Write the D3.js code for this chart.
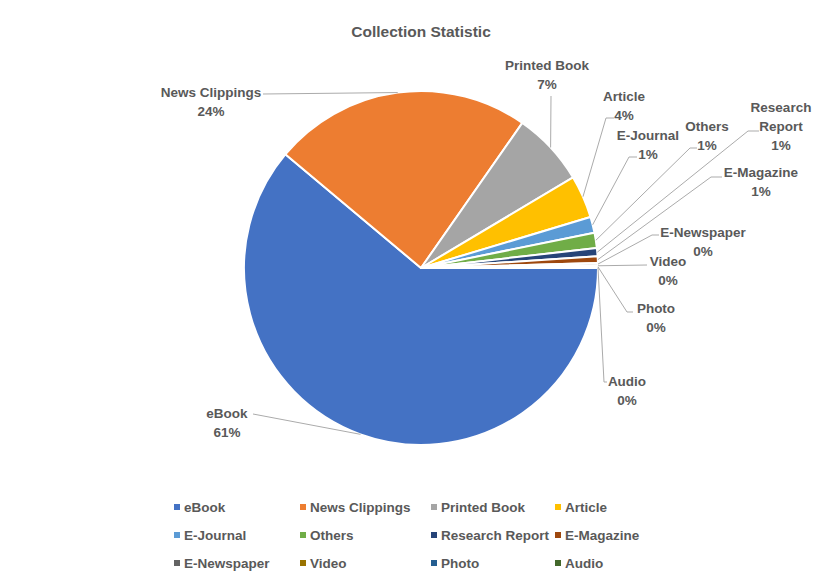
<!DOCTYPE html>
<html>
<head>
<meta charset="utf-8">
<script src="https://cdn.jsdelivr.net/npm/d3@7"></script>
<style>
  html, body { margin: 0; padding: 0; background: #fff; }
  svg text { font-family: "Liberation Sans", Arial, sans-serif; font-weight: bold; fill: #595959; }
</style>
</head>
<body>
<svg id="chart" width="821" height="575"></svg>
<script>
// ---- data ----
const categories = ["eBook", "News Clippings", "Printed Book", "Article", "E-Journal", "Others",
  "Research Report", "E-Magazine", "E-Newspaper", "Video", "Photo", "Audio"];
const values = [61.1, 23.6, 6.75, 3.9, 1.45, 1.4, 0.75, 0.6, 0.2, 0.1, 0.1, 0.05];
const colors = ["#4472C4", "#ED7D31", "#A5A5A5", "#FFC000", "#5B9BD5", "#70AD47",
  "#264478", "#9E480E", "#636363", "#997300", "#255E91", "#43682B"];
const title = "Collection Statistic";

// ---- label layout (positions only) ----
const labelLayout = [
  { lines: ["eBook"], tx: 227, ty: 413, elbow: [253, 414], end: [253, 414] },
  { lines: ["News Clippings"], tx: 211, ty: 92, elbow: [263, 94], end: [263, 94] },
  { lines: ["Printed Book"], tx: 547, ty: 65, elbow: [551, 96], end: [551, 96] },
  { lines: ["Article"], tx: 624, ty: 96, elbow: [606, 118], end: [614, 118] },
  { lines: ["E-Journal"], tx: 648, ty: 135, elbow: [629, 157], end: [637, 157] },
  { lines: ["Others"], tx: 707, ty: 126, elbow: [690, 148], end: [697, 148] },
  { lines: ["Research", "Report"], tx: 781, ty: 107, elbow: [748, 131], end: [759, 131] },
  { lines: ["E-Magazine"], tx: 761, ty: 172, elbow: [711, 177], end: [722, 177] },
  { lines: ["E-Newspaper"], tx: 703, ty: 232, elbow: [652, 235], end: [659, 235] },
  { lines: ["Video"], tx: 668, ty: 261, elbow: [647, 265], end: [647, 265] },
  { lines: ["Photo"], tx: 656, ty: 308, elbow: [627, 312], end: [633, 312] },
  { lines: ["Audio"], tx: 627, ty: 381, elbow: [604, 382], end: [607, 382] }
];

const svg = d3.select("#chart");
const cx = 421, cy = 268, R = 177;
const total = d3.sum(values);

svg.append("text").attr("x", 421).attr("y", 37).attr("text-anchor", "middle")
  .style("font-size", "15.5px").text(title);

const pie = d3.pie().sort(null).value(d => d.v)
  .startAngle(Math.PI / 2).endAngle(Math.PI / 2 + 2 * Math.PI);
const data = categories.map((c, i) => ({ name: c, v: values[i], color: colors[i], lay: labelLayout[i] }));
const arcs = pie(data);
const arc = d3.arc().innerRadius(0).outerRadius(R);

const g = svg.append("g").attr("transform", `translate(${cx},${cy})`);
g.selectAll("path.slice").data(arcs).join("path")
  .attr("class", "slice")
  .attr("d", arc)
  .attr("fill", d => d.data.color)
  .attr("stroke", "#fff")
  .attr("stroke-width", 2)
  .attr("stroke-linejoin", "round");

const line = d3.line();
svg.selectAll("path.leader").data(arcs).join("path")
  .attr("class", "leader")
  .attr("d", d => {
    const a = (d.startAngle + d.endAngle) / 2;
    const p = [cx + R * Math.sin(a), cy - R * Math.cos(a)];
    const L = d.data.lay;
    return line([p, L.elbow, L.end]);
  })
  .attr("fill", "none").attr("stroke", "#ABABAB").attr("stroke-width", 1);

const fs = 13.5, lh = 19;
arcs.forEach(d => {
  const L = d.data.lay;
  const pct = Math.round(d.data.v / total * 100) + "%";
  const lines = L.lines.concat([pct]);
  const t = svg.append("text").attr("text-anchor", "middle").style("font-size", fs + "px");
  lines.forEach((s, k) => {
    t.append("tspan").attr("x", L.tx).attr("y", L.ty + k * lh).attr("dy", "0.35em").text(s);
  });
});

const colX = [177, 303, 434, 558];
const rowY = [507, 535, 563];
const leg = svg.append("g");
data.forEach((d, i) => {
  const x = colX[i % 4], y = rowY[Math.floor(i / 4)];
  leg.append("rect").attr("x", x - 3).attr("y", y - 3).attr("width", 6).attr("height", 6).attr("fill", d.color);
  leg.append("text").attr("x", x + 7).attr("y", y).attr("dy", "0.35em")
    .style("font-size", fs + "px").text(d.name);
});
</script>
</body>
</html>
